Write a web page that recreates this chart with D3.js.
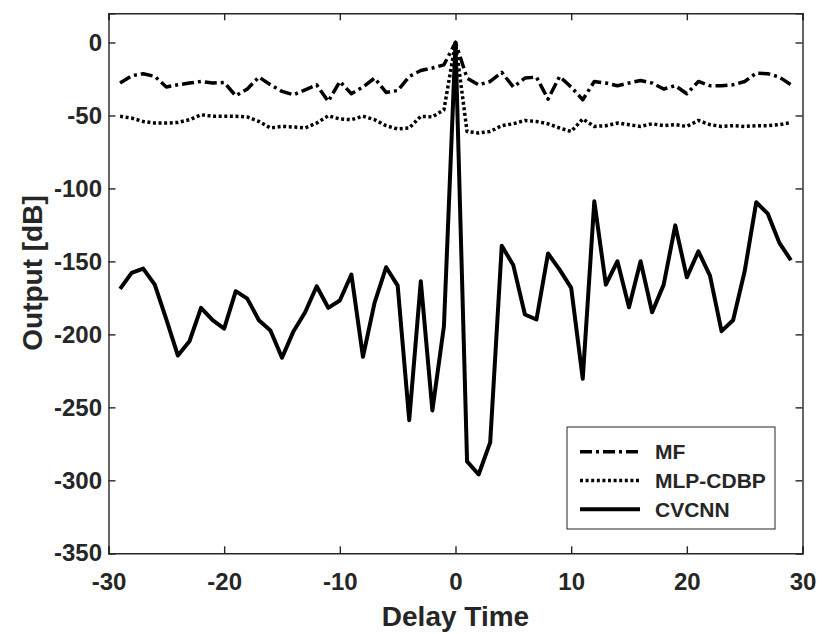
<!DOCTYPE html>
<html>
<head>
<meta charset="utf-8">
<script src="https://cdn.jsdelivr.net/npm/d3@7"></script>
<style>
  body { margin: 0; background: #fff; }
  text { font-family: "Liberation Sans", Arial, sans-serif; font-weight: bold; fill: #262626; }
</style>
</head>
<body>
<div id="chart"></div>
<script>
// delay axis, -29 .. 29
var delays = d3.range(-29, 30);

var mfValues = [
  -27.8, -22.8, -21.4, -23.2, -30.5, -29, -27.8, -26.7, -27.8, -27.4,
  -36.5, -31.9, -23.7, -29, -33.5, -35.8, -32.4, -29, -40.4, -26.7,
  -35.1, -30.5, -24.4, -34.2, -32.9, -23.3, -19.2, -17.5, -15.3, 0,
  -24.4, -29, -26.7, -20.5, -30.5, -24.4, -23.7, -38.8, -23.3, -30.5,
  -39.2, -26.7, -27.8, -29.6, -27.8, -26, -27.8, -31.9, -29.6, -35.1,
  -26.7, -29.6, -29.6, -29, -26.7, -21, -21.4, -23.7, -29
];

var mlpValues = [
  -50.6, -51.8, -54.1, -55.2, -55.2, -54.8, -52.9, -49.5, -50.6, -50.6,
  -50.6, -51, -54.1, -58.6, -57.5, -57.9, -58.6, -55.2, -50.2, -52.4,
  -52.9, -50.5, -52.9, -57, -59.3, -58.6, -50.6, -51, -46.1, 0,
  -61, -62, -61, -57, -55.7, -53.4, -54.1, -55.7, -58.6, -61,
  -52.4, -57.5, -57, -55.2, -56.3, -57.5, -55.7, -57, -56.3, -57.5,
  -53.4, -56.3, -57.5, -57, -57.5, -57, -57, -56.3, -54.8
];

var cvcnnValues = [
  -168.8, -157.9, -154.9, -165.9, -189.8, -214.5, -204.7, -181.8, -190.3, -196,
  -170.4, -175.5, -190.3, -197.4, -216, -197.8, -184.8, -167, -181.8, -176.8,
  -159, -215.4, -178.4, -154, -166.6, -258.8, -163.6, -252.1, -194.4, 0,
  -287, -296, -274, -139.2, -152.7, -186.4, -189.8, -144.6, -155.6, -168.1,
  -230.4, -108.8, -165.9, -149.9, -181.4, -149.9, -184.8, -165.9, -125.3, -160.9,
  -143.1, -159.7, -197.8, -190.3, -156.8, -109.5, -117.3, -137.3, -149.2
];

var xTicks = [-30, -20, -10, 0, 10, 20, 30];
var yTicks = [0, -50, -100, -150, -200, -250, -300, -350];

var seriesNames = ["MF", "MLP-CDBP", "CVCNN"];
var seriesDash = ["12,4,3,4", "3,2.6", null];
var seriesWidth = [3.5, 3.5, 4];

var svgWidth = 822;
var svgHeight = 634;
var margin = { top: 13.3, right: 19.5, bottom: 80.7, left: 108.5 };
var width = svgWidth - margin.left - margin.right;
var height = svgHeight - margin.top - margin.bottom;

var svg = d3.select("#chart")
  .append("svg")
  .attr("width", svgWidth)
  .attr("height", svgHeight);

var chartGroup = svg.append("g")
  .attr("transform", `translate(${margin.left}, ${margin.top})`);

var xScale = d3.scaleLinear().domain([-30, 30]).range([0, width]);
var yScale = d3.scaleLinear().domain([-350, 20]).range([height, 0]);

// lines
var allSeries = [mfValues, mlpValues, cvcnnValues];
var line = d3.line()
  .x((d, i) => xScale(delays[i]))
  .y(d => yScale(d));

allSeries.forEach(function(vals, k) {
  chartGroup.append("path")
    .datum(vals)
    .attr("d", line)
    .attr("fill", "none")
    .attr("stroke", "#000")
    .attr("stroke-width", seriesWidth[k])
    .attr("stroke-linejoin", "round")
    .attr("stroke-dasharray", seriesDash[k]);
});

// axes (ticks point inward like matlab), plain hyphen for minus
var fmt = d => String(d);
var bottomAxis = d3.axisBottom(xScale).tickValues(xTicks).tickSize(-7).tickPadding(19.5).tickFormat(fmt);
var leftAxis = d3.axisLeft(yScale).tickValues(yTicks).tickSize(-7).tickPadding(6.5).tickFormat(fmt);
var topAxis = d3.axisTop(xScale).tickValues(xTicks).tickSize(-7).tickFormat("");
var rightAxis = d3.axisRight(yScale).tickValues(yTicks).tickSize(-7).tickFormat("");

chartGroup.append("g").attr("transform", `translate(0, ${height})`).call(bottomAxis);
chartGroup.append("g").call(leftAxis);
chartGroup.append("g").call(topAxis);
chartGroup.append("g").attr("transform", `translate(${width}, 0)`).call(rightAxis);

chartGroup.selectAll(".domain, .tick line")
  .attr("stroke", "#262626")
  .attr("stroke-width", 1.4);
chartGroup.selectAll(".tick text")
  .attr("font-size", 24)
  .attr("font-family", "Liberation Sans, Arial, sans-serif")
  .attr("font-weight", "bold")
  .attr("fill", "#262626");

// axis labels
svg.append("text")
  .attr("x", margin.left + width / 2)
  .attr("y", 626)
  .attr("text-anchor", "middle")
  .attr("font-size", 28)
  .text("Delay Time");

svg.append("text")
  .attr("transform", "translate(42, 273) rotate(-90)")
  .attr("text-anchor", "middle")
  .attr("font-size", 28)
  .text("Output [dB]");

// legend
var legend = svg.append("g").attr("transform", "translate(567, 427)");
legend.append("rect")
  .attr("width", 208)
  .attr("height", 102)
  .attr("fill", "#fff")
  .attr("stroke", "#262626")
  .attr("stroke-width", 1);

seriesNames.forEach(function(name, k) {
  var yy = 24.7 + k * 28.8;
  legend.append("line")
    .attr("x1", 13).attr("x2", 73)
    .attr("y1", yy).attr("y2", yy)
    .attr("stroke", "#000")
    .attr("stroke-width", seriesWidth[k])
    .attr("stroke-dasharray", seriesDash[k]);
  legend.append("text")
    .attr("x", 88)
    .attr("y", yy + 7.5)
    .attr("font-size", 21)
    .text(name);
});
</script>
</body>
</html>
